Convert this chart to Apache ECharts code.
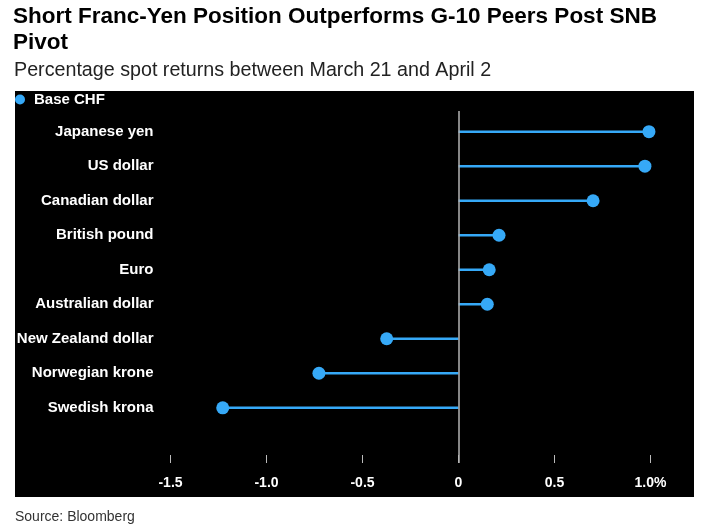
<!DOCTYPE html>
<html>
<head>
<meta charset="utf-8">
<script src="https://cdn.jsdelivr.net/npm/echarts@6/dist/echarts.min.js"></script>
<style>
html,body{margin:0;padding:0;background:#fff;}
#chart{width:707px;height:530px;}
</style>
</head>
<body>
<div id="chart"></div>
<script>
var categories = ['Japanese yen','US dollar','Canadian dollar','British pound','Euro','Australian dollar','New Zealand dollar','Norwegian krone','Swedish krona'];
var baseCHF = [0.992, 0.971, 0.701, 0.211, 0.160, 0.150, -0.374, -0.727, -1.228];
var xTicks = [-1.5, -1.0, -0.5, 0, 0.5, 1.0];
var xTickLabels = ['-1.5', '-1.0', '-0.5', '0', '0.5', '1.0%'];

var FONT = "'Liberation Sans', Arial, sans-serif";
var BLUE = '#36a9f7';
var pts = baseCHF.map(function (v, i) { return [v, i]; });

var chart = echarts.init(document.getElementById('chart'));
chart.setOption({
  backgroundColor: '#fff',
  animation: false,
  graphic: [{
    type: 'rect', z: -10, silent: true,
    shape: { x: 15, y: 91, width: 679, height: 406 },
    style: { fill: '#000' }
  }],
  title: [{
    text: 'Short Franc-Yen Position Outperforms G-10 Peers Post SNB\nPivot',
    left: 13, top: 4, padding: 0,
    textStyle: { fontFamily: FONT, fontSize: 22.5, fontWeight: 'bold', color: '#000', lineHeight: 26 }
  }, {
    text: 'Percentage spot returns between March 21 and April 2',
    left: 14, top: 60, padding: 0,
    textStyle: { fontFamily: FONT, fontSize: 19.7, fontWeight: 'normal', color: '#222', lineHeight: 22 }
  }, {
    text: 'Source: Bloomberg',
    left: 15, top: 509, padding: 0,
    textStyle: { fontFamily: FONT, fontSize: 14, fontWeight: 'normal', color: '#333', lineHeight: 16 }
  }],
  legend: {
    data: [{ name: 'Base CHF', icon: 'circle' }],
    left: 15, top: 92, padding: 0,
    itemWidth: 10, itemHeight: 10,
    textStyle: { fontFamily: FONT, fontSize: 15, fontWeight: 'bold', color: '#fff', padding: [0, 0, 0, 4] }
  },
  grid: { left: 170.5, right: 56.5, top: 111, bottom: 67, containLabel: false },
  xAxis: {
    type: 'value', min: -1.5, max: 1.0, interval: 0.5,
    position: 'bottom',
    axisLine: { show: false, onZero: false },
    axisTick: { show: true, inside: true, length: 8, lineStyle: { color: '#bbb', width: 1 } },
    splitLine: { show: false },
    axisLabel: {
      margin: 13, color: '#fff', fontFamily: FONT, fontSize: 14, fontWeight: 'bold',
      formatter: function (v) {
        for (var k = 0; k < xTicks.length; k++) { if (Math.abs(xTicks[k] - v) < 1e-9) return xTickLabels[k]; }
        return '';
      }
    }
  },
  yAxis: {
    type: 'value', inverse: true, min: -0.6, max: 9.6,
    axisLine: { show: false, onZero: false },
    axisTick: { show: false },
    splitLine: { show: false },
    axisLabel: {
      customValues: categories.map(function (c, i) { return i; }),
      margin: 17, color: '#fff', fontFamily: FONT, fontSize: 15, fontWeight: 'bold',
      formatter: function (v) { return categories[Math.round(v)] || ''; }
    }
  },
  series: [{
    type: 'custom',
    name: 'stem',
    data: pts,
    encode: { x: 0, y: 1 },
    clip: false,
    z: 2,
    renderItem: function (params, api) {
      var v = api.value(0), i = api.value(1);
      var a = api.coord([0, i]), b = api.coord([v, i]);
      return { type: 'line', shape: { x1: a[0], y1: a[1], x2: b[0], y2: b[1] },
               style: { stroke: BLUE, lineWidth: 2.5 } };
    },
    markLine: {
      silent: true, symbol: 'none', label: { show: false },
      lineStyle: { color: '#b5b5b5', width: 1.5, type: 'solid' },
      data: [{ xAxis: 0 }]
    }
  }, {
    type: 'scatter',
    name: 'Base CHF',
    data: pts,
    symbol: 'circle',
    symbolSize: 13,
    clip: false,
    z: 3,
    itemStyle: { color: BLUE, opacity: 1 }
  }]
});
</script>
</body>
</html>
